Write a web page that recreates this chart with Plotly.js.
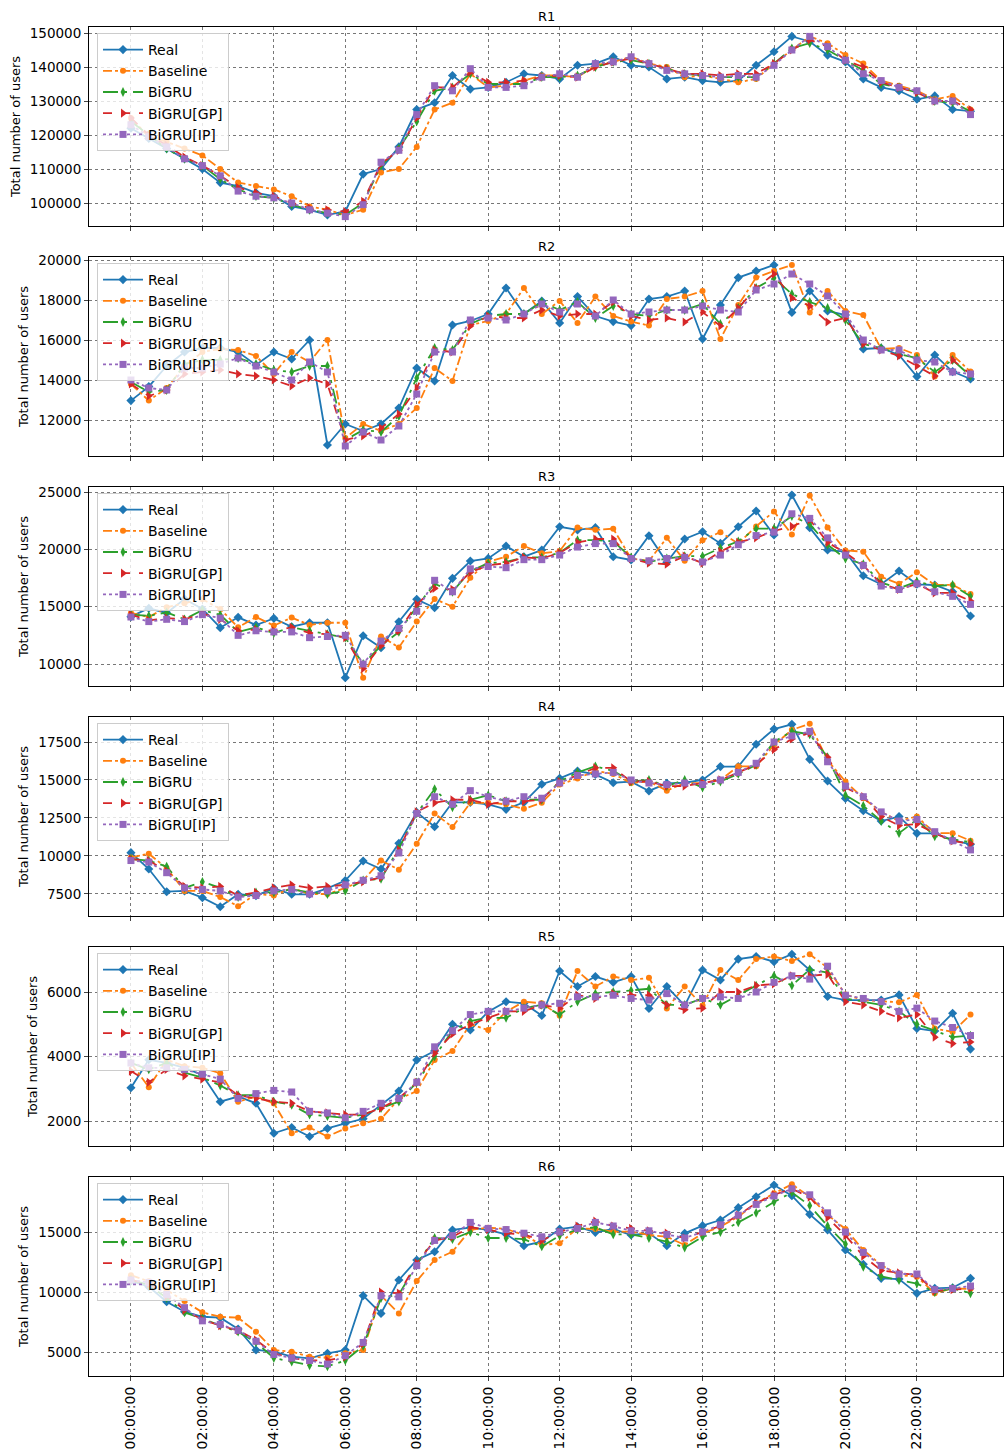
<!DOCTYPE html>
<html>
<head>
<meta charset="utf-8">
<script src="https://cdn.plot.ly/plotly-3.0.1.min.js"></script>
<style>body{margin:0;background:#fff}#chart{width:1004px;height:1452px}</style>
</head>
<body>
<div id="chart"></div>
<script>
// half-hour slots over one day
var hours = [];
for (var h = 0; h < 48; h++) hours.push(h / 2);
var tickHours = [0, 2, 4, 6, 8, 10, 12, 14, 16, 18, 20, 22];
var tickLabels = ['00:00:00','02:00:00','04:00:00','06:00:00','08:00:00','10:00:00','12:00:00','14:00:00','16:00:00','18:00:00','20:00:00','22:00:00'];

var regions = ['R1', 'R2', 'R3', 'R4', 'R5', 'R6'];
var seriesNames = ['Real', 'Baseline', 'BiGRU', 'BiGRU[GP]', 'BiGRU[IP]'];

// R1 (thousands)
var r1_real = [122,119,116,113,110,106,105,103,102,99,98,96.5,97.5,108.5,110,116.5,127.5,129.5,137.5,133.5,134,135.5,138,137.5,136.5,140.5,141,143,140.5,140,136.5,137,136,135.5,136,140.5,144.5,149,147.5,143.5,141.5,136.5,134,133,130.5,131.5,127.5,127];
var r1_base = [125,119.5,118,116,114,110,106,105,104,102,99,98,96.5,98,109,110,116.5,127.5,129.5,138,134,134.5,136,137.5,137.5,137,140.5,141.5,143,141,140,137,137.5,136.5,135.5,136.5,141,145,149,147,143.5,141,136,134.5,133,130.5,131.5,127.5];
var r1_gru = [124,120,116,113,111,107,104,102,101.5,99.5,98,97,96.5,100,111,116,124,133,134,138,135,135,135,137,137,137.5,140,141.5,142,141,139.5,138,137.5,137,137,137,141,145.5,147,145,142,139,135,134,132.5,130,129.5,127];
var r1_gp = [125,120,117,113.5,111,108,104.5,103,102,100,98.5,98,97.5,100.5,111.5,115.5,125,134,134,138.5,135.5,135.5,136,137,137.5,137,140,141.5,142.5,141,139.5,138,138,137.5,138,138,141,145,148,146,142,140,135.5,134,132.5,130,130,127.5];
var r1_ip = [123,119.5,116.5,113,111,108,103.5,102,101.5,100,98,97,96,99.5,112,115.5,126,134.5,133,139.5,134,134,134.5,137,138,137,141,141.5,143,141,139,138,137.5,137,137.5,137,140.5,145,149,146,142,138,136,134,133,130,130,126];

var r2_real = [12970,13670,14700,15400,15600,15600,15400,14750,15400,15050,16000,10750,11800,11450,11800,12600,14600,13950,16750,16950,17300,18600,17300,17950,16850,18170,17200,16920,16720,18050,18170,18450,16050,17750,19120,19450,19750,17380,18450,17450,17250,15550,15600,15250,14170,15250,14420,14050];
var r2_base = [13800,12970,13600,14700,15400,15550,15500,15200,14300,15400,14900,16000,11100,11800,11450,11800,12600,14600,13950,16750,16950,17300,18600,17300,17950,16850,18170,17200,16920,16720,18050,18170,18450,16050,17750,19120,19450,19750,17380,18450,17450,17250,15550,15600,15250,14170,15250,14420];
var r2_gru = [13900,13400,13500,14800,15000,15000,15100,14800,14500,14400,14700,14700,11000,11500,11400,12200,14100,15600,15500,16800,17200,17300,17300,17900,17500,17900,17100,17700,17300,17200,17500,17500,17800,16800,17600,18600,19100,18300,17900,17600,17000,15800,15600,15300,15100,14400,15000,14200];
var r2_gp = [13800,13200,13500,14300,14400,14500,14300,14200,14000,13700,14100,13800,11000,11200,11600,12300,13600,15500,15400,16700,17200,17100,17100,17500,17200,17300,17300,17900,17200,17000,17100,16900,17400,16700,17600,18600,19300,18100,17700,16900,17100,15800,15500,15200,14700,14200,15000,14300];
var r2_ip = [14000,13600,13500,14600,14600,14800,15100,14700,14400,14000,14900,14400,10700,11400,11000,11700,13300,15400,15400,17000,17100,17000,17300,17800,17400,17800,17200,18000,17300,17400,17500,17500,17700,17500,17400,18500,18800,19300,18800,18200,17300,16000,15500,15500,15000,14900,14400,14300];

var r3_real = [14130,14860,14450,15670,14800,13170,14070,13400,13980,13250,13600,13600,8810,12470,11420,13690,15640,14910,17470,18980,19210,20290,19360,19940,21970,21690,21890,19360,19070,21190,18870,20900,21540,20520,21970,23340,21250,24740,21890,19940,19800,17700,16950,18110,16950,16890,16310,14190];
var r3_base = [14450,14100,14950,15300,15650,14800,13200,14100,13350,14050,13400,13600,13600,8800,12400,11450,13700,15670,15000,17530,18920,19360,20290,19650,19850,21900,21700,21800,19200,19000,21000,19000,20800,21500,20500,22000,23300,21300,24700,21900,19900,19800,17600,17000,18000,16900,16900,16100];
var r3_gru = [14300,14200,14500,13900,14700,14300,12800,13200,12700,13200,12900,12600,12300,10000,11600,12800,15000,17000,16300,18100,18800,18900,19300,19300,19700,20800,20800,20700,19300,18900,19200,19400,19400,20100,20700,21800,21800,22900,22200,20400,19200,18700,17100,16600,17200,16800,16900,15900];
var r3_gp = [14300,13800,14000,13900,14400,13900,12900,13000,12900,13200,12700,12600,12300,9600,11600,12900,15200,16600,16500,18000,18600,18800,19300,19200,19700,20600,20900,20900,19200,18800,18700,19400,18800,19800,20600,21000,21600,22000,22600,20600,19700,18600,17000,16500,17000,16200,16200,15500];
var r3_ip = [14100,13700,13900,13700,14300,14000,12500,12900,12800,12800,12300,12400,12500,10000,12000,13100,14600,17300,16300,18300,18500,18400,19100,19100,19500,20200,20500,20500,19200,19000,19200,19300,18900,19500,20400,21200,21500,23100,22700,21000,19500,18600,16800,16500,17000,16300,15900,15200];

var r4_real = [10220,9140,7650,7700,7260,6660,7480,7390,7870,7480,7480,7870,8380,9670,9140,10830,12870,11930,13530,13530,13400,13070,13530,14720,15110,15590,15370,14820,14890,14280,14780,14820,15000,15880,15880,17350,18350,18660,16360,14930,13790,12980,12300,12590,11490,11490,11050,10770];
var r4_base = [9900,10150,9200,7700,7700,7300,6700,7500,7400,7900,7500,7500,7900,8400,9700,9100,10800,12800,11900,13500,13500,13400,13100,13500,14700,15100,15600,15400,14800,14900,14300,14800,14800,15000,15900,15900,17300,18300,18700,16300,14900,13800,12900,12300,12600,11500,11500,11000];
var r4_gru = [9800,9700,9300,7900,8300,7900,7300,7600,7600,7800,7600,7500,7700,8400,8500,10500,12800,14400,13200,13700,14000,13600,13700,13700,14900,15500,15900,15600,14900,15000,14600,15000,14500,14900,15400,16000,17500,18200,18000,16500,14000,13300,12300,11500,12400,11300,11100,10900];
var r4_gp = [9800,9700,9000,8000,7900,8000,7400,7600,7900,8100,7900,8000,8100,8300,8600,10400,12900,13500,13700,13700,13400,13600,13600,13700,14900,15300,15800,15800,14900,14900,14600,14600,14800,15000,15500,16000,17000,17700,18100,16500,14500,13900,12600,12000,12100,11500,11000,10800];
var r4_ip = [9700,9600,8900,7900,7800,7700,7300,7400,7700,7800,7500,7700,8100,8400,8700,10200,12800,13900,13400,14300,13900,13600,13900,13800,14800,15300,15400,15500,15000,14800,14700,14800,14700,15000,15500,16100,17500,17900,18200,16200,14600,13900,12900,12300,12400,11600,11000,10400];

var r5_real = [3030,3900,3800,3650,3430,2600,2760,2550,1620,1800,1520,1770,1930,2070,2500,2930,3890,4170,5000,4820,5390,5700,5650,5270,6650,6170,6480,6300,6480,5490,6170,5580,6680,6370,7020,7100,6940,7170,6680,5860,5750,5750,5750,5910,4870,4790,5340,4230];
var r5_base = [3800,3050,3900,3700,3650,3480,2600,2760,2550,1620,1800,1520,1770,1930,2070,2680,2930,3890,4170,5000,4820,5390,5700,5650,5270,6650,6170,6480,6370,6440,5490,6170,5580,6680,6370,7020,7100,6960,7170,6750,5920,5750,5720,5680,5910,4870,4760,5300];
var r5_gru = [3800,3600,3800,3500,3350,3100,2800,2800,2600,2500,2200,2150,2100,2200,2400,2600,3200,4000,4800,5100,5200,5200,5500,5600,5300,5700,5950,6000,6050,6100,5600,5600,5800,5600,5900,6200,6500,6200,6700,6600,5800,5700,5600,5400,5000,4800,4600,4650];
var r5_gp = [3550,3200,3600,3400,3300,3200,2800,2700,2600,2550,2300,2250,2200,2200,2400,2700,3200,4100,4700,5000,5200,5400,5400,5600,5500,5900,5800,5950,5900,5900,5600,5450,5500,6000,6000,6200,6250,6500,6500,6550,5700,5600,5400,5200,5300,4600,4400,4450];
var r5_ip = [3800,3650,3650,3600,3450,3300,2700,2850,2950,2900,2300,2250,2100,2300,2550,2700,3200,4300,4800,5300,5400,5400,5500,5600,5650,5850,5850,5900,5800,5750,5950,5600,5800,5850,5800,6000,6300,6500,6400,6800,5900,5800,5700,5400,5500,5100,4900,4650];

var r6_real = [10920,10440,9190,8360,7940,7860,6920,5170,5030,4610,4470,4890,5170,9700,8220,11000,12670,13360,15170,15360,15170,14810,13860,14190,15250,15440,14970,15250,14750,14890,13860,14890,15530,16000,17030,17940,18920,18030,16470,15170,13500,12310,11140,11080,9890,10310,10360,11140];
var r6_base = [11400,10900,10170,9250,8310,7940,7860,6690,5170,5030,4610,4530,4900,5170,9700,8220,10920,12670,13360,15170,15360,15250,14750,13920,14060,15310,15250,15030,15030,14750,14610,13920,14890,15440,16280,17390,18220,18970,17940,16420,15250,13500,12250,11420,11280,9890,10310,10250];
var r6_gru = [11000,10600,9500,8300,7800,7200,6700,5800,4500,4200,3900,3800,4300,5500,9500,9800,12300,14500,14400,15000,14500,14500,14400,13800,14700,15200,15400,14800,14800,14500,14200,13700,14600,15000,15800,16600,17500,18300,17200,15500,14000,12100,11300,11000,10700,10000,10300,9900];
var r6_gp = [11000,10700,9700,8500,7700,7200,6800,6000,4900,4500,4300,4300,4600,5700,10000,9900,12400,14300,14600,15400,15200,14900,14800,14300,15000,15500,15900,15500,15300,15100,14900,14500,15000,15500,16400,17400,18100,18600,17900,16200,14700,13000,11800,11600,11400,10100,10200,10300];
var r6_ip = [11000,10800,9800,8700,7600,7300,6800,5900,4800,4500,4300,4000,4700,5800,9700,9600,12200,14300,14700,15800,15300,15200,14900,14600,15000,15300,15800,15500,15100,15100,14800,14500,15000,15600,16400,17300,18000,18600,18100,16600,15000,13300,12200,11500,11500,10200,10300,10500];

var panelData = [
  [r1_real.map(function (v) { return v * 1000; }), r1_base.map(function (v) { return v * 1000; }),
   r1_gru.map(function (v) { return v * 1000; }), r1_gp.map(function (v) { return v * 1000; }),
   r1_ip.map(function (v) { return v * 1000; })],
  [r2_real, r2_base, r2_gru, r2_gp, r2_ip],
  [r3_real, r3_base, r3_gru, r3_gp, r3_ip],
  [r4_real, r4_base, r4_gru, r4_gp, r4_ip],
  [r5_real, r5_base, r5_gru, r5_gp, r5_ip],
  [r6_real, r6_base, r6_gru, r6_gp, r6_ip]
];

var colors = ['#1f77b4', '#ff7f0e', '#2ca02c', '#d62728', '#9467bd'];
var dashes = ['solid', 'dashdot', 'longdashdot', 'dash', 'dot'];
var symbols = ['diamond', 'circle', 'diamond-tall', 'triangle-right', 'square'];
var sizes = [7, 6, 7, 8, 7];

// panel frames in pixels (top, bottom) and y ranges
var panelTop = [27, 257, 487, 717, 947, 1177];
var panelBot = [226, 456, 686, 916, 1146, 1376];
var yRanges = [[93235, 151765], [10200, 20150], [8083, 25436], [6051, 19145], [1226, 7395], [3005, 19582]];
var yTicks = [
  [100000, 110000, 120000, 130000, 140000, 150000],
  [12000, 14000, 16000, 18000, 20000],
  [10000, 15000, 20000, 25000],
  [7500, 10000, 12500, 15000, 17500],
  [2000, 4000, 6000],
  [5000, 10000, 15000]
];
var H = 1452, W = 1004;

var data = [];
var layout = {
  width: W, height: H,
  margin: {l: 0, r: 0, t: 0, b: 0},
  paper_bgcolor: 'white', plot_bgcolor: 'white',
  font: {family: 'DejaVu Sans', size: 13, color: 'black'},
  annotations: []
};

for (var p = 0; p < 6; p++) {
  var n = p === 0 ? '' : String(p + 1);
  for (var s = 0; s < 5; s++) {
    data.push({
      x: hours, y: panelData[p][s], name: seriesNames[s],
      type: 'scatter', mode: 'lines+markers',
      xaxis: 'x' + n, yaxis: 'y' + n, legend: 'legend' + n,
      line: {color: colors[s], dash: dashes[s], width: 1.8},
      marker: {color: colors[s], symbol: symbols[s], size: sizes[s]}
    });
  }
  var dom = [1 - panelBot[p] / H, 1 - panelTop[p] / H];
  layout['xaxis' + n] = {
    domain: [89 / W, 0.999], anchor: 'y' + n, range: [-1.174, 24.41],
    tickvals: tickHours, ticktext: tickLabels, showticklabels: p === 5,
    tickangle: -90, ticks: 'outside', ticklen: 4,
    showgrid: true, gridcolor: '#777', griddash: 'dot', gridwidth: 0.5,
    showline: true, mirror: true, linecolor: 'black', linewidth: 1, zeroline: false,
    tickfont: {size: 14}
  };
  if (p > 0) layout['xaxis' + n].matches = 'x';
  layout['yaxis' + n] = {
    domain: dom, anchor: 'x' + n, range: yRanges[p], tickvals: yTicks[p],
    ticks: 'outside', ticklen: 4, tickformat: 'd',
    showgrid: true, gridcolor: '#777', griddash: 'dot', gridwidth: 0.5,
    showline: true, mirror: true, linecolor: 'black', linewidth: 1, zeroline: false,
    title: {text: 'Total number of users', font: {size: 13}, standoff: 6},
    tickfont: {size: 13.5}
  };
  layout['legend' + n] = {
    x: 97 / W, xanchor: 'left', y: 1 - (panelTop[p] + 6) / H, yanchor: 'top',
    bgcolor: 'rgba(255,255,255,0.8)', bordercolor: '#ccc', borderwidth: 1,
    font: {size: 14}, tracegroupgap: 0, itemwidth: 40
  };
  layout.annotations.push({
    text: regions[p], xref: 'paper', yref: 'paper', showarrow: false,
    x: (89 + 1004) / 2 / W, y: 1 - (panelTop[p] - 11) / H, yanchor: 'middle',
    font: {size: 13}
  });
}

Plotly.newPlot('chart', data, layout, {displayModeBar: false});
</script>
</body>
</html>
